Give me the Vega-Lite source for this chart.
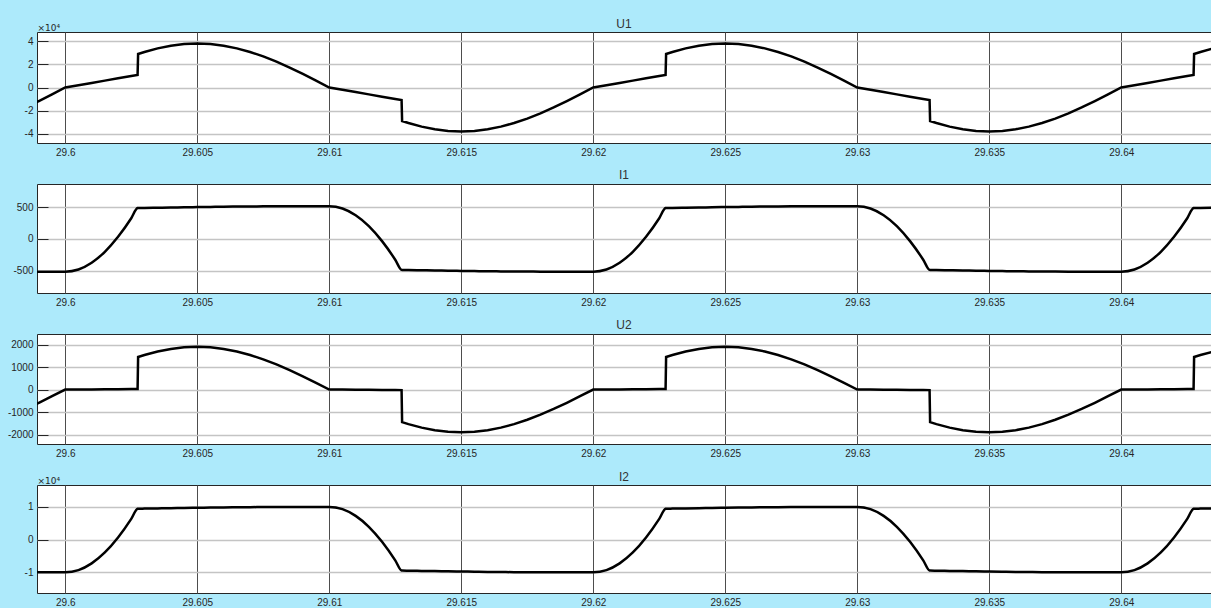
{
  "$schema": "https://vega.github.io/schema/vega-lite/v6.json",
  "padding": {"left": 6, "top": 17, "right": 0, "bottom": 0},
  "background": "#ADEAFB",
  "data": {"values": [
    {"t":29.5985,"U1":-17252,"I1":-515,"U2":-863,"I2":-9991},
    {"t":29.599,"U1":-11742,"I1":-515,"U2":-587,"I2":-9991},
    {"t":29.5995,"U1":-5943,"I1":-515,"U2":-297,"I2":-9991},
    {"t":29.6,"U1":0,"I1":-515,"U2":0,"I2":-9991},
    {"t":29.6005,"U1":1982,"I1":-480,"U2":0,"I2":-9312},
    {"t":29.601,"U1":3964,"I1":-374,"U2":5,"I2":-7256},
    {"t":29.6015,"U1":5945,"I1":-202,"U2":10,"I2":-3919},
    {"t":29.602,"U1":7927,"I1":34,"U2":15,"I2":660},
    {"t":29.6025,"U1":9909,"I1":327,"U2":20,"I2":6344},
    {"t":29.60274,"U1":10860,"I1":486,"U2":25,"I2":9428},
    {"t":29.60276,"U1":28970,"I1":487,"U2":1449,"I2":9448},
    {"t":29.603,"U1":30742,"I1":489,"U2":1537,"I2":9487},
    {"t":29.6035,"U1":33858,"I1":492,"U2":1693,"I2":9545},
    {"t":29.604,"U1":36142,"I1":495,"U2":1807,"I2":9603},
    {"t":29.6045,"U1":37533,"I1":499,"U2":1877,"I2":9681},
    {"t":29.605,"U1":38000,"I1":502,"U2":1900,"I2":9739},
    {"t":29.6055,"U1":37533,"I1":505,"U2":1877,"I2":9797},
    {"t":29.606,"U1":36142,"I1":508,"U2":1807,"I2":9855},
    {"t":29.6065,"U1":33858,"I1":510,"U2":1693,"I2":9894},
    {"t":29.607,"U1":30742,"I1":512,"U2":1537,"I2":9933},
    {"t":29.6075,"U1":26870,"I1":513,"U2":1343,"I2":9952},
    {"t":29.608,"U1":22336,"I1":514,"U2":1117,"I2":9972},
    {"t":29.6085,"U1":17252,"I1":515,"U2":863,"I2":9991},
    {"t":29.609,"U1":11742,"I1":515,"U2":587,"I2":9991},
    {"t":29.6095,"U1":5943,"I1":515,"U2":297,"I2":9991},
    {"t":29.61,"U1":0,"I1":515,"U2":0,"I2":9991},
    {"t":29.6105,"U1":-1982,"I1":480,"U2":0,"I2":9312},
    {"t":29.611,"U1":-3964,"I1":374,"U2":-5,"I2":7256},
    {"t":29.6115,"U1":-5945,"I1":202,"U2":-10,"I2":3919},
    {"t":29.612,"U1":-7927,"I1":-34,"U2":-15,"I2":-660},
    {"t":29.6125,"U1":-9909,"I1":-327,"U2":-20,"I2":-6344},
    {"t":29.61274,"U1":-10860,"I1":-486,"U2":-25,"I2":-9428},
    {"t":29.61276,"U1":-28970,"I1":-487,"U2":-1449,"I2":-9448},
    {"t":29.613,"U1":-30742,"I1":-489,"U2":-1537,"I2":-9487},
    {"t":29.6135,"U1":-33858,"I1":-492,"U2":-1693,"I2":-9545},
    {"t":29.614,"U1":-36142,"I1":-495,"U2":-1807,"I2":-9603},
    {"t":29.6145,"U1":-37533,"I1":-499,"U2":-1877,"I2":-9681},
    {"t":29.615,"U1":-38000,"I1":-502,"U2":-1900,"I2":-9739},
    {"t":29.6155,"U1":-37533,"I1":-505,"U2":-1877,"I2":-9797},
    {"t":29.616,"U1":-36142,"I1":-508,"U2":-1807,"I2":-9855},
    {"t":29.6165,"U1":-33858,"I1":-510,"U2":-1693,"I2":-9894},
    {"t":29.617,"U1":-30742,"I1":-512,"U2":-1537,"I2":-9933},
    {"t":29.6175,"U1":-26870,"I1":-513,"U2":-1343,"I2":-9952},
    {"t":29.618,"U1":-22336,"I1":-514,"U2":-1117,"I2":-9972},
    {"t":29.6185,"U1":-17252,"I1":-515,"U2":-863,"I2":-9991},
    {"t":29.619,"U1":-11742,"I1":-515,"U2":-587,"I2":-9991},
    {"t":29.6195,"U1":-5943,"I1":-515,"U2":-297,"I2":-9991},
    {"t":29.62,"U1":0,"I1":-515,"U2":0,"I2":-9991},
    {"t":29.6205,"U1":1982,"I1":-480,"U2":0,"I2":-9312},
    {"t":29.621,"U1":3964,"I1":-374,"U2":5,"I2":-7256},
    {"t":29.6215,"U1":5945,"I1":-202,"U2":10,"I2":-3919},
    {"t":29.622,"U1":7927,"I1":34,"U2":15,"I2":660},
    {"t":29.6225,"U1":9909,"I1":327,"U2":20,"I2":6344},
    {"t":29.62274,"U1":10860,"I1":486,"U2":25,"I2":9428},
    {"t":29.62276,"U1":28970,"I1":487,"U2":1449,"I2":9448},
    {"t":29.623,"U1":30742,"I1":489,"U2":1537,"I2":9487},
    {"t":29.6235,"U1":33858,"I1":492,"U2":1693,"I2":9545},
    {"t":29.624,"U1":36142,"I1":495,"U2":1807,"I2":9603},
    {"t":29.6245,"U1":37533,"I1":499,"U2":1877,"I2":9681},
    {"t":29.625,"U1":38000,"I1":502,"U2":1900,"I2":9739},
    {"t":29.6255,"U1":37533,"I1":505,"U2":1877,"I2":9797},
    {"t":29.626,"U1":36142,"I1":508,"U2":1807,"I2":9855},
    {"t":29.6265,"U1":33858,"I1":510,"U2":1693,"I2":9894},
    {"t":29.627,"U1":30742,"I1":512,"U2":1537,"I2":9933},
    {"t":29.6275,"U1":26870,"I1":513,"U2":1343,"I2":9952},
    {"t":29.628,"U1":22336,"I1":514,"U2":1117,"I2":9972},
    {"t":29.6285,"U1":17252,"I1":515,"U2":863,"I2":9991},
    {"t":29.629,"U1":11742,"I1":515,"U2":587,"I2":9991},
    {"t":29.6295,"U1":5943,"I1":515,"U2":297,"I2":9991},
    {"t":29.63,"U1":0,"I1":515,"U2":0,"I2":9991},
    {"t":29.6305,"U1":-1982,"I1":480,"U2":0,"I2":9312},
    {"t":29.631,"U1":-3964,"I1":374,"U2":-5,"I2":7256},
    {"t":29.6315,"U1":-5945,"I1":202,"U2":-10,"I2":3919},
    {"t":29.632,"U1":-7927,"I1":-34,"U2":-15,"I2":-660},
    {"t":29.6325,"U1":-9909,"I1":-327,"U2":-20,"I2":-6344},
    {"t":29.63274,"U1":-10860,"I1":-486,"U2":-25,"I2":-9428},
    {"t":29.63276,"U1":-28970,"I1":-487,"U2":-1449,"I2":-9448},
    {"t":29.633,"U1":-30742,"I1":-489,"U2":-1537,"I2":-9487},
    {"t":29.6335,"U1":-33858,"I1":-492,"U2":-1693,"I2":-9545},
    {"t":29.634,"U1":-36142,"I1":-495,"U2":-1807,"I2":-9603},
    {"t":29.6345,"U1":-37533,"I1":-499,"U2":-1877,"I2":-9681},
    {"t":29.635,"U1":-38000,"I1":-502,"U2":-1900,"I2":-9739},
    {"t":29.6355,"U1":-37533,"I1":-505,"U2":-1877,"I2":-9797},
    {"t":29.636,"U1":-36142,"I1":-508,"U2":-1807,"I2":-9855},
    {"t":29.6365,"U1":-33858,"I1":-510,"U2":-1693,"I2":-9894},
    {"t":29.637,"U1":-30742,"I1":-512,"U2":-1537,"I2":-9933},
    {"t":29.6375,"U1":-26870,"I1":-513,"U2":-1343,"I2":-9952},
    {"t":29.638,"U1":-22336,"I1":-514,"U2":-1117,"I2":-9972},
    {"t":29.6385,"U1":-17252,"I1":-515,"U2":-863,"I2":-9991},
    {"t":29.639,"U1":-11742,"I1":-515,"U2":-587,"I2":-9991},
    {"t":29.6395,"U1":-5943,"I1":-515,"U2":-297,"I2":-9991},
    {"t":29.64,"U1":0,"I1":-515,"U2":0,"I2":-9991},
    {"t":29.6405,"U1":1982,"I1":-480,"U2":0,"I2":-9312},
    {"t":29.641,"U1":3964,"I1":-374,"U2":5,"I2":-7256},
    {"t":29.6415,"U1":5945,"I1":-202,"U2":10,"I2":-3919},
    {"t":29.642,"U1":7927,"I1":34,"U2":15,"I2":660},
    {"t":29.6425,"U1":9909,"I1":327,"U2":20,"I2":6344},
    {"t":29.64274,"U1":10860,"I1":486,"U2":25,"I2":9428},
    {"t":29.64276,"U1":28970,"I1":487,"U2":1449,"I2":9448},
    {"t":29.643,"U1":30742,"I1":489,"U2":1537,"I2":9487},
    {"t":29.6435,"U1":33858,"I1":492,"U2":1693,"I2":9545}
  ]},
  "spacing": 41,
  "bounds": "flush",
  "vconcat": [
    {
      "width": 1174, "height": 111,
      "title": {"text": "U1", "offset": -8},
      "mark": {"type": "line", "color": "black", "strokeWidth": 2.5, "clip": true, "interpolate": "linear"},
      "encoding": {
        "x": {"field": "t", "type": "quantitative", "scale": {"domain": [29.59893, 29.6434], "nice": false, "zero": false},
              "axis": {"values": [29.6, 29.605, 29.61, 29.615, 29.62, 29.625, 29.63, 29.635, 29.64], "labelExpr": "'' + datum.value", "title": null}},
        "y": {"field": "U1", "type": "quantitative", "scale": {"domain": [-48000, 48000], "nice": false, "zero": false},
              "axis": {"values": [-40000, -20000, 0, 20000, 40000], "labelExpr": "'' + (datum.value / 10000)", "title": "×10⁴", "titleFont": "DejaVu Sans", "titleFontSize": 9, "titleAngle": 0, "titleX": 0, "titleY": -2, "titleAlign": "left", "titleBaseline": "alphabetic"}}
      }
    },
    {
      "width": 1174, "height": 109,
      "title": "I1",
      "mark": {"type": "line", "color": "black", "strokeWidth": 2.5, "clip": true, "interpolate": "monotone"},
      "encoding": {
        "x": {"field": "t", "type": "quantitative", "scale": {"domain": [29.59893, 29.6434], "nice": false, "zero": false},
              "axis": {"values": [29.6, 29.605, 29.61, 29.615, 29.62, 29.625, 29.63, 29.635, 29.64], "labelExpr": "'' + datum.value", "title": null}},
        "y": {"field": "I1", "type": "quantitative", "scale": {"domain": [-850, 865], "nice": false, "zero": false},
              "axis": {"values": [-500, 0, 500], "labelExpr": "'' + datum.value", "title": null}}
      }
    },
    {
      "width": 1174, "height": 110,
      "title": "U2",
      "mark": {"type": "line", "color": "black", "strokeWidth": 2.5, "clip": true, "interpolate": "linear"},
      "encoding": {
        "x": {"field": "t", "type": "quantitative", "scale": {"domain": [29.59893, 29.6434], "nice": false, "zero": false},
              "axis": {"values": [29.6, 29.605, 29.61, 29.615, 29.62, 29.625, 29.63, 29.635, 29.64], "labelExpr": "'' + datum.value", "title": null}},
        "y": {"field": "U2", "type": "quantitative", "scale": {"domain": [-2420, 2470], "nice": false, "zero": false},
              "axis": {"values": [-2000, -1000, 0, 1000, 2000], "labelExpr": "'' + datum.value", "title": null}}
      }
    },
    {
      "width": 1174, "height": 108,
      "title": {"text": "I2", "offset": -8},
      "mark": {"type": "line", "color": "black", "strokeWidth": 2.5, "clip": true, "interpolate": "monotone"},
      "encoding": {
        "x": {"field": "t", "type": "quantitative", "scale": {"domain": [29.59893, 29.6434], "nice": false, "zero": false},
              "axis": {"values": [29.6, 29.605, 29.61, 29.615, 29.62, 29.625, 29.63, 29.635, 29.64], "labelExpr": "'' + datum.value", "title": null}},
        "y": {"field": "I2", "type": "quantitative", "scale": {"domain": [-16300, 16700], "nice": false, "zero": false},
              "axis": {"values": [-10000, 0, 10000], "labelExpr": "'' + (datum.value / 10000)", "title": "×10⁴", "titleFont": "DejaVu Sans", "titleFontSize": 9, "titleAngle": 0, "titleX": 0, "titleY": -2, "titleAlign": "left", "titleBaseline": "alphabetic"}}
      }
    }
  ],
  "config": {
    "font": "Liberation Sans",
    "view": {"fill": "white", "stroke": "#262626", "strokeWidth": 1},
    "title": {"fontSize": 12, "fontWeight": "normal", "color": "#333333", "offset": 2, "anchor": "middle", "frame": "group", "font": "Liberation Sans"},
    "axis": {"domain": false, "labelFont": "Liberation Sans", "labelFontSize": 10, "labelColor": "#262626", "titleFont": "Liberation Sans", "titleFontSize": 10, "titleFontWeight": "normal", "titleColor": "#262626"},
    "axisX": {"grid": true, "gridColor": "#4d4d4d", "gridWidth": 1, "gridOpacity": 1, "ticks": false, "labelPadding": 4},
    "axisY": {"grid": true, "gridColor": "#c4c4c4", "gridWidth": 1.5, "gridOpacity": 1, "ticks": true, "tickSize": -11, "tickColor": "#262626", "tickWidth": 1, "labelPadding": 15}
  }
}
